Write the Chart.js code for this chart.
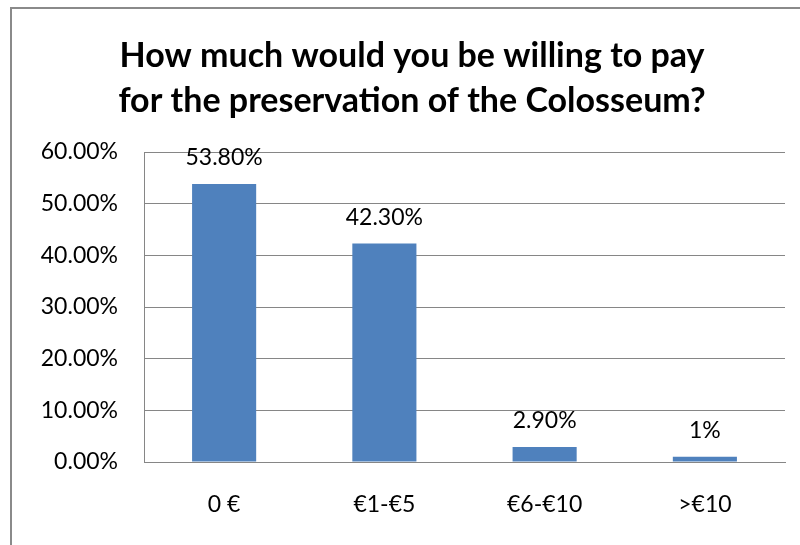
<!DOCTYPE html>
<html>
<head>
<meta charset="utf-8">
<script src="https://cdn.jsdelivr.net/npm/chart.js@4"></script>
<style>
  html,body{margin:0;padding:0;background:#fff;overflow:hidden;}
  #wrap{position:relative;width:800px;height:545px;}
  #frame{position:absolute;left:10px;top:7px;width:830px;height:580px;border:2px solid #8a8a8a;box-sizing:border-box;pointer-events:none;}
</style>
</head>
<body>
<div id="wrap">
  <canvas id="c" width="800" height="545"></canvas>
  <div id="frame"></div>
</div>
<script>
// ─── DATA ────────────────────────────────────────────────────────────────────
const CATEGORIES=['0 €','€1-€5','€6-€10','>€10'];
const VALUES=[53.8,42.3,2.9,1];
const VALUE_LABELS=['53.80%','42.30%','2.90%','1%'];
const Y_TICKS=[0,10,20,30,40,50,60];
const TITLE=['How much would you be willing to pay','for the preservation of the Colosseum?'];

const FONT='Lato, "Open Sans", sans-serif';
const GRID='#868686';

// value labels above each bar
const barLabels={
  id:'barLabels',
  afterDatasetsDraw(chart){
    const ctx=chart.ctx, meta=chart.getDatasetMeta(0);
    ctx.save();
    ctx.font='23px '+FONT; ctx.fillStyle='#000'; ctx.textAlign='center'; ctx.textBaseline='middle';
    meta.data.forEach((b,i)=>ctx.fillText(VALUE_LABELS[i],b.x,b.y-26));
    ctx.restore();
  }
};

new Chart(document.getElementById('c'),{
  type:'bar',
  data:{labels:CATEGORIES,datasets:[{data:VALUES,backgroundColor:'#4F81BD',barPercentage:0.4,categoryPercentage:1}]},
  options:{
    responsive:false,animation:false,
    layout:{padding:{left:39,right:15,top:34,bottom:0}},
    plugins:{
      legend:{display:false},tooltip:{enabled:false},
      title:{display:true,text:TITLE,color:'#000',font:{family:FONT,size:34,weight:'bold',lineHeight:45/34},padding:{top:0,bottom:28}}
    },
    scales:{
      x:{
        afterFit:s=>{s.height=83;},
        grid:{display:false,drawTicks:false},
        border:{color:GRID,width:1},
        ticks:{color:'#000',font:{family:FONT,size:23},padding:29}
      },
      y:{
        min:0,max:60,
        afterFit:s=>{s.width=105;},
        afterBuildTicks:s=>{s.ticks=Y_TICKS.map(v=>({value:v}));},
        grid:{color:GRID,drawTicks:false},
        border:{color:GRID,width:1},
        ticks:{color:'#000',font:{family:FONT,size:23},padding:26,callback:v=>v.toFixed(2)+'%'}
      }
    }
  },
  plugins:[barLabels]
});
</script>
</body>
</html>
